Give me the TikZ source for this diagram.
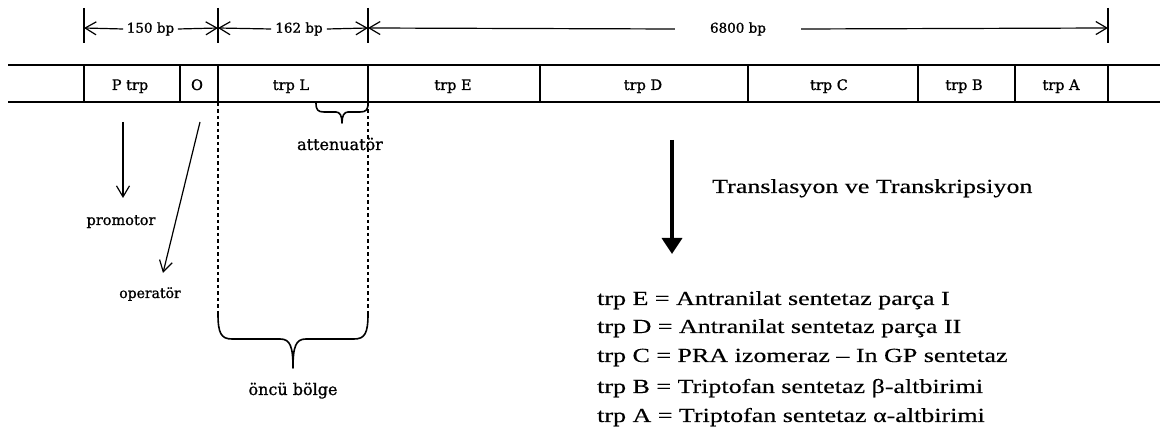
\documentclass[tikz,border=0pt]{standalone}
\usepackage{fontspec}
\setmainfont{Liberation Serif}
\newfontfamily\bigf[FakeStretch=1.3,FakeBold=0.4]{Liberation Serif}
\newfontfamily\smf[FakeBold=1]{DejaVu Serif}
\usetikzlibrary{arrows.meta}
\begin{document}
\begin{tikzpicture}[x=1bp,y=-1bp,
  barline/.style={line width=1.8bp},
  tickline/.style={line width=1.4bp},
  dimline/.style={line width=1.2bp},
  barb/.style={-{Straight Barb[length=11bp,width=13bp]}},
  dimlabel/.style={font=\smf\fontsize{13.5bp}{16bp}\selectfont, inner ysep=0pt},
  genelabel/.style={font=\smf\fontsize{14.5bp}{17bp}\selectfont, inner sep=0pt, anchor=base},
  annot/.style={font=\smf\fontsize{#1}{18bp}\selectfont, inner sep=0pt, anchor=base},
  legendtext/.style={font=\bigf\fontsize{20bp}{24bp}\selectfont, anchor=base west, inner sep=0pt},
  dashedline/.style={line width=1.6bp, dash pattern=on 3.5bp off 3bp},
  bracel/.style={line width=1.6bp, line join=round, line cap=round},
  bigarrow/.style={line width=3.5bp, -{Triangle[length=16bp,width=20bp]}},
]
\useasboundingbox (0,0) rectangle (1160,436);

% ---- dimension row ----
\coordinate (t1) at (84,28);
\coordinate (t2) at (218,28);
\coordinate (t3) at (368,28);
\coordinate (t4) at (1108,28);
\draw[tickline] (84,8) -- (84,43);
\draw[tickline] (218,8) -- (218,43);
\draw[tickline] (368,8) -- (368,43);
\draw[tickline] (1108,8) -- (1108,43);

\node[dimlabel, inner xsep=3.5bp] (d150) at (150.5,29) {150 bp};
\node[dimlabel, inner xsep=4bp] (d162) at (299,29) {162 bp};
\node[dimlabel, inner xsep=35bp] (d6800) at (738,29) {6800 bp};
\draw[dimline,barb] (d150.west) -- (t1);
\draw[dimline,barb] (d150.east) -- (t2);
\draw[dimline,barb] (d162.west) -- (t2);
\draw[dimline,barb] (d162.east) -- (t3);
\draw[dimline,barb] (d6800.west) -- (t3);
\draw[dimline,barb] (d6800.east) -- (t4);

% ---- gene bar ----
\draw[barline] (8,65) -- (1160,65);
\draw[barline] (8,102) -- (1160,102);
\foreach \x in {84,180,218,368,540,748,918,1015,1108}
  \draw[barline] (\x,65) -- (\x,102);

\node[genelabel] (ptrp) at (130,90) {P trp};
\node[genelabel] (op) at (197,90) {O};
\node[genelabel] (trpL) at (291,90) {trp L};
\node[genelabel] (trpE) at (453,90) {trp E};
\node[genelabel] (trpD) at (643,90) {trp D};
\node[genelabel] (trpC) at (829,90) {trp C};
\node[genelabel] (trpB) at (964,90) {trp B};
\node[genelabel] (trpA) at (1061,90) {trp A};

% ---- dashed region lines ----
\draw[dashedline] (218,103) -- (218,314);
\draw[dashedline] (368,103) -- (368,314);

% ---- attenuator brace ----
\draw[bracel] (316,103) .. controls (316,110) and (318,112) .. (324,112) -- (336,112)
  .. controls (340,112) and (342,116) .. (342,123)
  .. controls (342,116) and (344,112) .. (348,112) -- (360,112)
  .. controls (366,112) and (368,110) .. (368,103);
\node[annot=16bp] (atten) at (340,150) {attenuatör};

% ---- leader region brace ----
\draw[bracel] (218,314) .. controls (218,333) and (221,339) .. (232,339) -- (280,339)
  .. controls (290,339) and (293,346) .. (293,368)
  .. controls (293,346) and (296,339) .. (306,339) -- (354,339)
  .. controls (365,339) and (368,333) .. (368,314);
\node[annot=16bp] (oncu) at (293,395) {öncü bölge};

% ---- promotor / operator arrows ----
\coordinate (p0) at (123,122);
\coordinate (p1) at (123,198);
\coordinate (o0) at (200,122);
\coordinate (o1) at (163,273);
\draw[dimline,barb] (p0) -- (p1);
\draw[dimline,barb] (o0) -- (o1);
\node[annot=14.5bp] (promotor) at (121,225) {promotor};
\node[annot=14bp] (operator) at (150,298) {operatör};

% ---- translation arrow and text ----
\coordinate (b0) at (672,140);
\coordinate (b1) at (672,254);
\draw[bigarrow] (b0) -- (b1);
\node[legendtext] (trans) at (712,193) {Translasyon ve Transkripsiyon};

% ---- legend ----
\node[legendtext] (lE) at (597,305) {trp E = Antranilat sentetaz parça I};
\node[legendtext] (lD) at (597,333) {trp D = Antranilat sentetaz parça II};
\node[legendtext] (lC) at (597,362) {trp C = PRA izomeraz – In GP sentetaz};
\node[legendtext] (lB) at (597,393) {trp B = Triptofan sentetaz β-altbirimi};
\node[legendtext] (lA) at (597,422) {trp A = Triptofan sentetaz α-altbirimi};
\end{tikzpicture}
\end{document}
